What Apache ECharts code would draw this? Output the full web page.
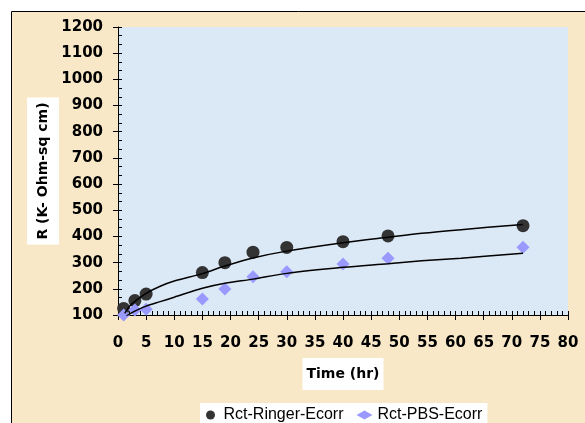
<!DOCTYPE html>
<html>
<head>
<meta charset="utf-8">
<script src="https://cdn.jsdelivr.net/npm/echarts@6/dist/echarts.min.js"></script>
<style>
  html, body { margin: 0; padding: 0; background: #fff; }
  #chart { width: 585px; height: 423px; }
</style>
</head>
<body>
<div id="chart"></div>
<script>
// measured points
const timeHr = [1, 3, 5, 15, 19, 24, 30, 40, 48, 72];
const ringer = [125, 155, 180, 262, 300, 340, 358, 380, 402, 441];
const pbs = [100, 119, 122, 161, 199, 246, 265, 295, 317, 359];

// trend lines
const ringerFitX = [1.2, 2, 3, 5, 7.5, 10, 15, 19, 24, 30, 40, 48, 54, 61, 72];
const ringerFitY = [106, 132, 152, 183, 210, 230, 258, 287, 318, 344, 376, 397, 412, 426, 446];
const pbsFitX = [1.5, 3, 5, 7.5, 10, 15, 19, 24, 30, 40, 48, 54, 61, 72];
const pbsFitY = [97, 115, 134, 151, 168, 202, 221, 237, 259, 282, 296, 307, 317, 336];

const pairs = (xs, ys) => xs.map((x, i) => [x, ys[i]]);

const tickFont = { fontFamily: 'DejaVu Sans', fontWeight: 'bold', fontSize: 15, color: '#000' };
const black = { color: '#000', width: 1 };

const chart = echarts.init(document.getElementById('chart'));
chart.setOption({
  animation: false,
  graphic: [{
    type: 'rect',
    z: -10,
    shape: { x: 11.5, y: 11.5, width: 600, height: 500 },
    style: { fill: '#f9e8c8', stroke: '#000', lineWidth: 1 }
  }, {
    // plot area fill
    type: 'rect',
    z: -9,
    shape: { x: 118, y: 27, width: 450, height: 288 },
    style: { fill: '#dbe8f6' }
  }],
  grid: { left: 118, top: 27, right: 17, bottom: 108 },
  legend: {
    data: ['Rct-Ringer-Ecorr', 'Rct-PBS-Ecorr'],
    left: 200, top: 403,
    backgroundColor: '#fff',
    padding: [4, 5, 6, 6],
    itemGap: 13,
    itemWidth: 16,
    itemHeight: 9,
    textStyle: { fontFamily: 'Arial', fontSize: 16, color: '#000' }
  },
  xAxis: [{
    type: 'value',
    min: 0, max: 80, interval: 5,
    name: 'Time (hr)',
    nameLocation: 'middle',
    nameGap: 43,
    nameMoveOverlap: false,
    nameTextStyle: {
      fontFamily: 'DejaVu Sans', fontWeight: 'bold', fontSize: 14, color: '#000',
      backgroundColor: '#fff', padding: [9, 4, 9, 4], verticalAlign: 'top'
    },
    splitLine: { show: false },
    axisLine: { show: true, lineStyle: black },
    axisTick: { show: true, inside: true, length: 4, lineStyle: black },
    minorTick: { show: true, splitNumber: 5, length: 4, lineStyle: black },
    axisLabel: Object.assign({ margin: 21 }, tickFont)
  }, {
    type: 'value',
    position: 'bottom',
    min: 0, max: 80, interval: 5,
    splitLine: { show: false },
    axisLine: { show: false },
    axisTick: { show: true, length: 5, lineStyle: black },
    axisLabel: { show: false }
  }],
  yAxis: [{
    type: 'value',
    min: 100, max: 1200, interval: 100,
    name: 'R (K- Ohm-sq cm)',
    nameLocation: 'middle',
    nameRotate: 90,
    nameGap: 59,
    nameMoveOverlap: false,
    nameTextStyle: {
      fontFamily: 'DejaVu Sans', fontWeight: 'bold', fontSize: 14, color: '#000',
      backgroundColor: '#fff', padding: [9, 5, 9, 5]
    },
    splitLine: { show: false },
    axisLine: { show: true, lineStyle: black },
    axisTick: { show: true, inside: true, length: 4, lineStyle: black },
    minorTick: { show: true, splitNumber: 3, length: 4, lineStyle: black },
    axisLabel: Object.assign({ margin: 15, formatter: v => String(v) }, tickFont)
  }, {
    type: 'value',
    position: 'left',
    min: 100, max: 1200, interval: 100,
    splitLine: { show: false },
    axisLine: { show: false },
    axisTick: { show: true, length: 5, lineStyle: black },
    axisLabel: { show: false }
  }],
  series: [
    {
      name: 'Rct-Ringer-Ecorr',
      type: 'scatter',
      symbol: 'circle',
      symbolSize: 13,
      itemStyle: { color: '#333333', opacity: 1 },
      data: pairs(timeHr, ringer)
    },
    {
      name: 'Rct-PBS-Ecorr',
      type: 'scatter',
      symbol: 'diamond',
      symbolSize: 13,
      itemStyle: { color: '#9999ff', opacity: 1 },
      data: pairs(timeHr, pbs)
    },
    {
      name: 'ringerFit',
      type: 'line',
      showSymbol: false,
      smooth: 0.3,
      lineStyle: { color: '#000', width: 1.5 },
      data: pairs(ringerFitX, ringerFitY)
    },
    {
      name: 'pbsFit',
      type: 'line',
      showSymbol: false,
      smooth: 0.3,
      lineStyle: { color: '#000', width: 1.5 },
      data: pairs(pbsFitX, pbsFitY)
    }
  ]
});
</script>
</body>
</html>
